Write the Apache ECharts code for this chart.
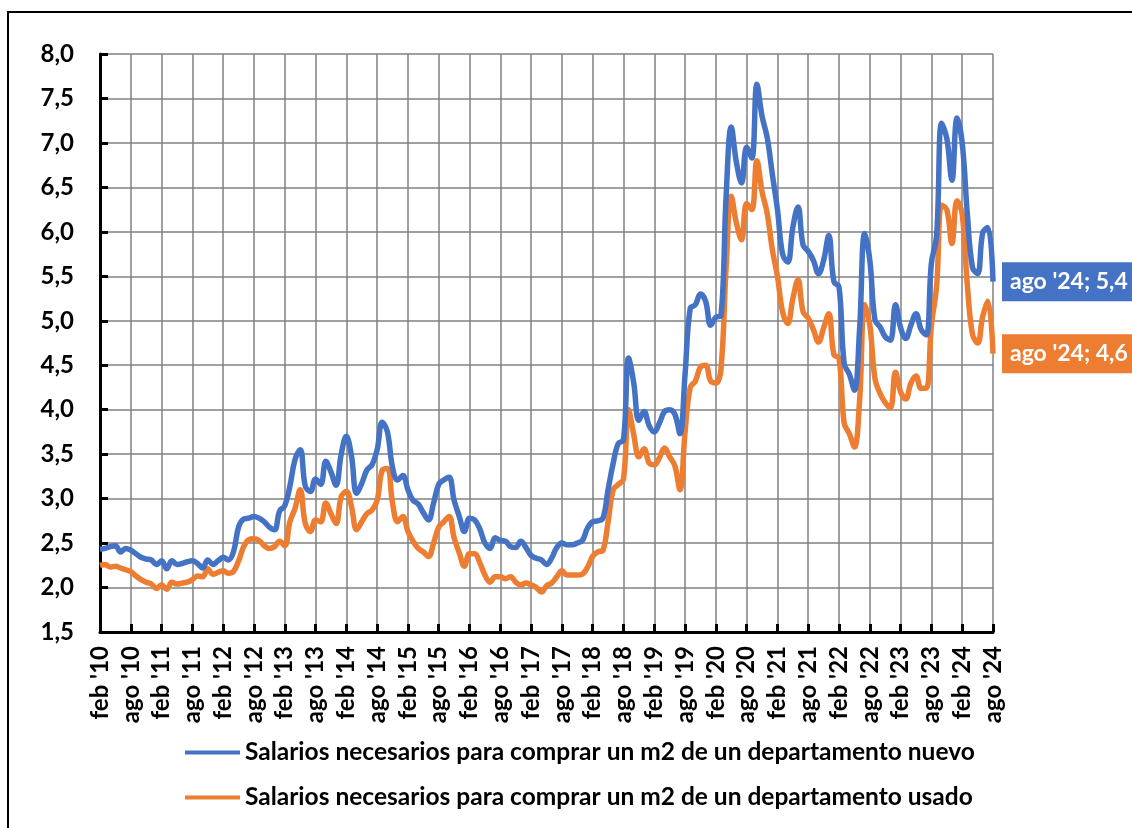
<!DOCTYPE html>
<html>
<head>
<meta charset="utf-8">
<script src="https://cdn.jsdelivr.net/npm/echarts@6/dist/echarts.min.js"></script>
<style>
html,body{margin:0;padding:0;background:#fff;}
#chart{width:1132px;height:828px;}
</style>
</head>
<body>
<div id="chart"></div>
<script>
// Month abbreviations used in the category labels (feb '10 ... ago '24)
const monthNames = ['ene','feb','mar','abr','may','jun','jul','ago','sep','oct','nov','dic'];
const startYear = 2010, startMonth = 1;   // feb 2010
const endYear = 2024, endMonth = 7;       // ago 2024

// Salarios necesarios para comprar un m2 de un departamento nuevo
const nuevo = [
  2.43,2.44,2.46,2.47,2.40,2.44,2.42,2.38,2.34,2.32,2.31,
  2.26,2.30,2.21,2.30,2.26,2.27,2.29,2.30,2.27,2.22,2.31,2.26,
  2.30,2.34,2.31,2.40,2.68,2.77,2.78,2.80,2.78,2.74,2.68,2.65,
  2.86,2.92,3.14,3.44,3.55,3.14,3.08,3.22,3.16,3.42,3.30,3.15,
  3.50,3.70,3.48,3.06,3.17,3.32,3.38,3.55,3.86,3.75,3.35,3.21,
  3.26,3.10,2.98,2.94,2.84,2.76,2.95,3.16,3.21,3.24,2.98,2.80,
  2.63,2.78,2.76,2.66,2.50,2.44,2.56,2.53,2.52,2.46,2.45,2.52,
  2.45,2.36,2.33,2.31,2.26,2.33,2.45,2.50,2.48,2.48,2.50,2.53,
  2.67,2.74,2.75,2.78,3.10,3.40,3.62,3.66,4.58,4.30,3.88,3.98,
  3.82,3.75,3.85,3.98,4.00,3.95,3.73,4.40,5.14,5.18,5.30,5.22,
  4.95,5.04,5.06,6.40,7.18,6.78,6.55,6.95,6.83,7.66,7.30,7.06,
  6.65,6.25,5.75,5.66,6.05,6.28,5.85,5.78,5.68,5.53,5.68,5.96,
  5.44,5.38,4.52,4.40,4.22,4.90,5.98,5.68,5.01,4.93,4.82,4.78,
  5.18,4.92,4.80,4.95,5.08,4.90,4.84,5.65,5.95,7.22,7.05,6.58,
  7.28,7.00,6.20,5.60,5.53,5.99,6.05,5.44
];

// Salarios necesarios para comprar un m2 de un departamento usado
const usado = [
  2.25,2.26,2.23,2.24,2.22,2.20,2.18,2.13,2.09,2.06,2.04,
  1.99,2.03,1.98,2.06,2.04,2.05,2.06,2.09,2.13,2.12,2.21,2.15,
  2.17,2.19,2.16,2.18,2.30,2.46,2.54,2.55,2.53,2.47,2.44,2.46,
  2.52,2.47,2.74,2.89,3.10,2.72,2.63,2.76,2.74,2.95,2.83,2.72,
  3.02,3.08,2.91,2.65,2.74,2.83,2.87,2.98,3.32,3.34,2.95,2.74,
  2.80,2.63,2.52,2.44,2.40,2.35,2.50,2.68,2.74,2.80,2.56,2.39,
  2.24,2.38,2.38,2.28,2.14,2.06,2.12,2.12,2.10,2.12,2.06,2.03,
  2.05,2.03,2.00,1.95,2.02,2.05,2.12,2.19,2.14,2.14,2.14,2.15,
  2.23,2.35,2.40,2.42,2.74,3.10,3.16,3.22,4.00,3.72,3.47,3.56,
  3.40,3.38,3.46,3.57,3.47,3.37,3.10,3.75,4.25,4.32,4.48,4.50,
  4.32,4.30,4.46,5.60,6.40,6.10,5.91,6.32,6.25,6.80,6.45,6.21,
  5.80,5.50,5.10,4.97,5.25,5.46,5.10,5.03,4.90,4.76,4.92,5.08,
  4.62,4.58,3.85,3.73,3.58,4.10,5.18,4.95,4.35,4.18,4.08,4.02,
  4.42,4.20,4.12,4.30,4.38,4.24,4.24,4.95,5.38,6.30,6.25,5.87,
  6.35,6.20,5.40,4.85,4.75,5.05,5.22,4.63
];

const seriesNames = [
  'Salarios necesarios para comprar un m2 de un departamento nuevo',
  'Salarios necesarios para comprar un m2 de un departamento usado'
];

const yMin = 1.5, yMax = 8.0, yStep = 0.5;
const labelEvery = 6;

// Build category labels
const categories = [];
for (let y = startYear, m = startMonth; y < endYear || (y === endYear && m <= endMonth); ) {
  categories.push(monthNames[m] + " '" + String(y).slice(2));
  m++; if (m > 11) { m = 0; y++; }
}

const FONT = 'Lato';
const fmt = v => v.toFixed(1).replace('.', ',');
const blue = '#4472C4', orange = '#ED7D31';

function endLabel(color, data) {
  return {
    show: true,
    formatter: () => categories[categories.length - 1] + '; ' + fmt(data[data.length - 1]),
    backgroundColor: color,
    color: '#fff',
    fontFamily: FONT,
    fontWeight: 'bold',
    fontSize: 23,
    padding: [8, 10, 8, 8],
    distance: 9
  };
}

const chart = echarts.init(document.getElementById('chart'), null, {renderer: 'canvas'});
chart.setOption({
  animation: false,
  textStyle: {fontFamily: FONT},
  graphic: [{
    type: 'rect',
    shape: {x: 8, y: 12, width: 1400, height: 1000},
    style: {fill: 'none', stroke: '#000', lineWidth: 2},
    silent: true, z: -1
  }],
  grid: {left: 100, right: 139, top: 54, bottom: 196, containLabel: false},
  legend: {
    orient: 'vertical',
    left: 180,
    top: 735,
    itemGap: 20,
    itemWidth: 55,
    itemHeight: 14,
    icon: 'path://M0,5.5 L55,5.5 L55,9.5 L0,9.5 Z',
    textStyle: {fontFamily: FONT, fontWeight: 'bold', fontSize: 24.5, color: '#000'},
    data: seriesNames
  },
  xAxis: {
    type: 'category',
    data: categories,
    boundaryGap: false,
    axisLine: {lineStyle: {color: '#000', width: 3}},
    axisTick: {show: true, inside: true, length: 8, interval: labelEvery - 1, lineStyle: {color: '#000', width: 3}},
    axisLabel: {interval: labelEvery - 1, rotate: 90, margin: 14, fontFamily: FONT, fontWeight: 'bold', fontSize: 24, color: '#000'},
    splitLine: {show: true, interval: labelEvery - 1, lineStyle: {color: '#808080', width: 1.5}}
  },
  yAxis: {
    type: 'value',
    min: yMin, max: yMax, interval: yStep,
    axisLine: {show: true, lineStyle: {color: '#000', width: 3}},
    axisTick: {show: true, inside: true, length: 8, lineStyle: {color: '#000', width: 3}},
    axisLabel: {margin: 26, formatter: fmt, fontFamily: FONT, fontWeight: 'bold', fontSize: 24, color: '#000'},
    splitLine: {show: true, lineStyle: {color: '#808080', width: 1.5}}
  },
  series: [
    {
      name: seriesNames[0], type: 'line', data: nuevo, symbol: 'none', smooth: 0.4,
      lineStyle: {color: blue, width: 5.5}, itemStyle: {color: blue},
      endLabel: endLabel(blue, nuevo), z: 3
    },
    {
      name: seriesNames[1], type: 'line', data: usado, symbol: 'none', smooth: 0.4,
      lineStyle: {color: orange, width: 5.5}, itemStyle: {color: orange},
      endLabel: endLabel(orange, usado), z: 2
    }
  ]
});
</script>
</body>
</html>
